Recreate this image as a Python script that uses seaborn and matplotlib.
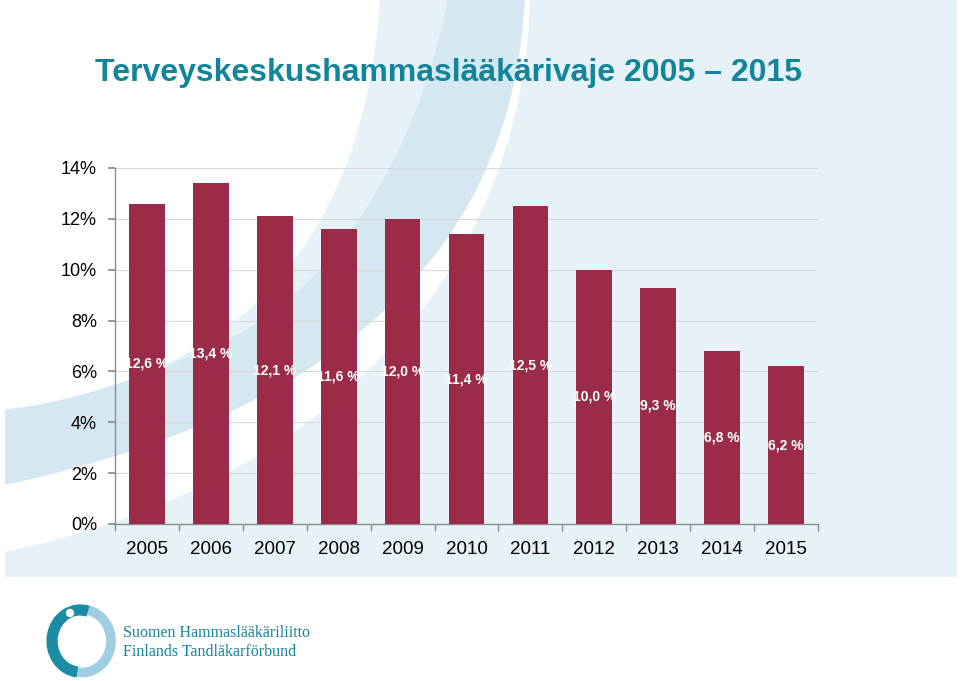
import numpy as np
import pandas as pd
import seaborn as sns
import matplotlib
matplotlib.use("Agg")
import matplotlib.pyplot as plt
from matplotlib.path import Path
from matplotlib.patches import PathPatch, Rectangle, Ellipse, Arc, Circle
from matplotlib.ticker import PercentFormatter, FixedLocator

# data
years = ["2005", "2006", "2007", "2008", "2009", "2010", "2011", "2012", "2013", "2014", "2015"]
shortage = [12.6, 13.4, 12.1, 11.6, 12.0, 11.4, 12.5, 10.0, 9.3, 6.8, 6.2]
title = "Terveyskeskushammaslääkärivaje 2005 \u2013 2015"
logo_lines = ["Suomen Hammaslääkäriliitto", "Finlands Tandläkarförbund"]

bar_color = "#9A2C4A"
teal = "#11869A"

sns.set_theme(style="white")
plt.rcParams["font.family"] = ["Liberation Sans", "DejaVu Sans"]

fig = plt.figure(figsize=(9.6, 6.81), dpi=100)

# background decoration in pixel coords
bg = fig.add_axes([0, 0, 1, 1], zorder=0)
bg.set_xlim(0, 960)
bg.set_ylim(681, 0)
bg.axis("off")

bg.add_patch(Rectangle((5, 0), 952, 577, color="#E7F2F8", lw=0))

C4 = Path.CURVE4
# white upper-left corner
verts = [(0, -2), (380, -2), (365, 230), (250, 380), (0, 410), (0, 0)]
codes = [Path.MOVETO, Path.LINETO, C4, C4, C4, Path.CLOSEPOLY]
bg.add_patch(PathPatch(Path(verts, codes), color="white", lw=0))

# darker swoosh band
verts = [(448, -2), (420, 150), (330, 300), (214, 345),
         (140, 380), (60, 405), (5, 410),
         (5, 485),
         (400, 400), (515, 200), (525, -2), (0, 0)]
codes = [Path.MOVETO, C4, C4, C4, C4, C4, C4, Path.LINETO, C4, C4, C4, Path.CLOSEPOLY]
bg.add_patch(PathPatch(Path(verts, codes), color="#D5E8F2", lw=0))

# white swoosh
verts = [(525, -2), (515, 200), (400, 400), (5, 485),
         (5, 552),
         (350, 480), (525, 250), (530, -2), (0, 0)]
codes = [Path.MOVETO, C4, C4, C4, Path.LINETO, C4, C4, C4, Path.CLOSEPOLY]
bg.add_patch(PathPatch(Path(verts, codes), color="white", lw=0))

bg.text(95, 81, title, fontsize=23, fontweight="bold", color=teal,
        ha="left", va="baseline")

# logo
bg.add_patch(Ellipse((82, 641), 58, 63, fill=False, lw=7, color="#9FCDE2"))
bg.add_patch(Arc((80, 641), 56, 62, theta1=95, theta2=285, lw=8, color="#1A8CA3"))
bg.add_patch(Circle((70, 613), 3.5, color="white"))
for i, line in enumerate(logo_lines):
    bg.text(123, 633 + i * 19, line, fontsize=11.5, color="#17839B",
            family=["Liberation Serif", "DejaVu Serif"], ha="left", va="center")

# chart
ax = fig.add_axes([115 / 960, 1 - 524 / 681, 703 / 960, 356 / 681], zorder=1)
ax.patch.set_alpha(0)

df = pd.DataFrame({"year": years, "value": shortage})
sns.barplot(data=df, x="year", y="value", color=bar_color, saturation=1,
            width=0.56, linewidth=0, edgecolor=bar_color, ax=ax, zorder=3)

for i, v in enumerate(shortage):
    ax.text(i, v / 2, f"{v:.1f} %".replace(".", ","), color="white",
            fontsize=10, fontweight="bold", ha="center", va="center", zorder=4)

ax.set_ylim(0, 14)
ax.set_xlim(-0.5, len(years) - 0.5)
ax.set_yticks(np.arange(0, 15, 2))
ax.yaxis.set_major_formatter(PercentFormatter(100, decimals=0))
ax.grid(axis="y", color="#D9D9D9", lw=0.9, zorder=0)
ax.set_axisbelow(True)
ax.set_xlabel("")
ax.set_ylabel("")

for s in ["top", "right"]:
    ax.spines[s].set_visible(False)
for s in ["left", "bottom"]:
    ax.spines[s].set_color("#8C8C8C")
    ax.spines[s].set_linewidth(1)

ax.tick_params(axis="y", which="major", left=True, length=5, color="#8C8C8C",
               pad=8, labelsize=13, labelcolor="black")
ax.tick_params(axis="x", which="major", length=0, pad=12, labelsize=13.5,
               labelcolor="black")
ax.xaxis.set_minor_locator(FixedLocator(np.arange(-0.5, len(years), 1)))
ax.tick_params(axis="x", which="minor", bottom=True, length=5, color="#8C8C8C")

fig.savefig("out.png", dpi=100)
